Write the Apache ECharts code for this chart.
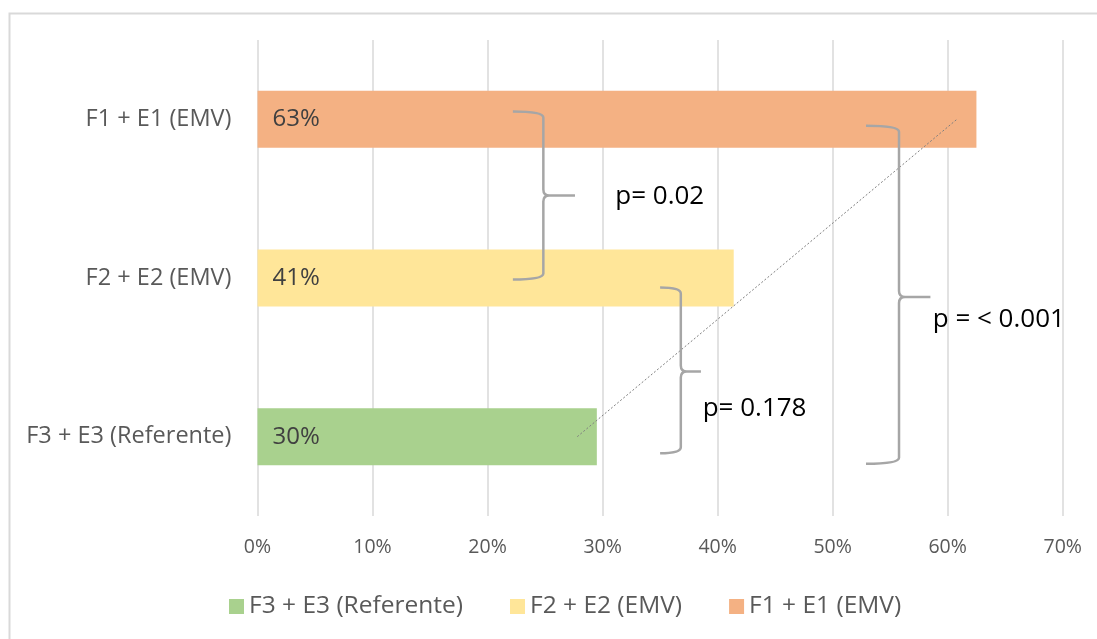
<!DOCTYPE html>
<html>
<head>
<meta charset="utf-8">
<script src="https://cdn.jsdelivr.net/npm/echarts@6/dist/echarts.min.js"></script>
<style>
  html, body { margin: 0; padding: 0; background: #ffffff; }
  #chart { width: 1097px; height: 639px; }
</style>
</head>
<body>
<div id="chart"></div>
<script>
// Categories, bottom to top on the vertical axis
const categories = ['F3 + E3 (Referente)', 'F2 + E2 (EMV)', 'F1 + E1 (EMV)'];
// Share per group, in percent
const values = [29.5, 41.4, 62.5];
const seriesColors = ['#a9d18e', '#ffe699', '#f4b183'];
// Horizontal axis ticks
const xTicks = [0, 10, 20, 30, 40, 50, 60, 70];

// Group comparison brackets: [xEnd, xSpine, xTip, yTop, yTip, yBottom] (y in category units)
const braces = [
  [22.2, 24.85, 27.6, 2.05, 1.52, 0.99],
  [35.0, 36.8, 38.55, 0.94, 0.41, -0.105],
  [52.9, 55.77, 58.5, 1.96, 0.88, -0.17]
];
// p-value labels: [x, y, text]
const pLabels = [
  [31.1, 1.51, 'p= 0.02'],
  [38.7, 0.18, 'p= 0.178'],
  [58.7, 0.735, 'p = < 0.001']
];
// Linear trend across the groups
const trendEnds = [[27.8, 0], [60.8, 2]];

const FONT = '"Open Sans", Lato, sans-serif';

const chart = echarts.init(document.getElementById('chart'));

const barSeries = categories.map((name, i) => ({
  name: name,
  type: 'bar',
  stack: 'all',
  barWidth: 57,
  itemStyle: { color: seriesColors[i] },
  label: {
    show: true,
    position: 'insideLeft',
    distance: 15,
    color: '#404040',
    fontSize: 24,
    fontFamily: FONT,
    formatter: p => Math.round(p.value) + '%'
  },
  data: categories.map((c, j) => (j === i ? values[i] : '-'))
}));

function bracePath(api) {
  const xe = api.value(0), xs = api.value(1), xt = api.value(2);
  const yt = api.value(3), ym = api.value(4), yb = api.value(5);
  const pTop = api.coord([xe, yt]);
  const pSpineTop = api.coord([xs, yt]);
  const pTip = api.coord([xt, ym]);
  const pSpineMid = api.coord([xs, ym]);
  const pBot = api.coord([xe, yb]);
  const X = pSpineTop[0], r = 6;
  const d = [
    'M', pTop[0], pTop[1],
    'Q', X, pTop[1], X, pTop[1] + r,
    'L', X, pSpineMid[1] - r,
    'Q', X, pSpineMid[1], X + r, pSpineMid[1],
    'L', pTip[0], pSpineMid[1],
    'M', X + r, pSpineMid[1],
    'Q', X, pSpineMid[1], X, pSpineMid[1] + r,
    'L', X, pBot[1] - r,
    'Q', X, pBot[1], pBot[0], pBot[1]
  ].join(' ');
  return {
    type: 'path',
    shape: { pathData: d },
    style: { fill: null, stroke: '#a6a6a6', lineWidth: 2.5 }
  };
}

const option = {
  animation: false,
  backgroundColor: '#ffffff',
  grid: { left: 257.5, right: 34.3, top: 40, bottom: 123, containLabel: false },
  legend: {
    top: 589,
    left: 224,
    itemWidth: 15,
    itemHeight: 15,
    itemGap: 47,
    icon: 'rect',
    textStyle: { color: '#595959', fontSize: 24.5, fontFamily: FONT },
    data: categories
  },
  xAxis: {
    type: 'value',
    min: 0,
    max: 70,
    interval: 10,
    axisLine: { show: false },
    axisTick: { show: false },
    axisLabel: {
      color: '#595959',
      fontSize: 19.5,
      fontFamily: FONT,
      margin: 21,
      formatter: v => (xTicks.includes(v) ? v + '%' : '')
    },
    splitLine: { lineStyle: { color: '#d9d9d9', width: 1.5 } }
  },
  yAxis: [
    {
      type: 'category',
      data: categories,
      axisLine: { show: false },
      axisTick: { show: false },
      axisLabel: { color: '#595959', fontSize: 23.5, fontFamily: FONT, margin: 26 },
      splitLine: { show: false }
    },
    {
      type: 'value',
      min: -0.5,
      max: 2.5,
      show: false
    }
  ],
  series: barSeries.concat([
    {
      type: 'custom',
      xAxisIndex: 0,
      yAxisIndex: 1,
      silent: true,
      renderItem: (params, api) => bracePath(api),
      data: braces,
      z: 5
    },
    {
      type: 'custom',
      xAxisIndex: 0,
      yAxisIndex: 1,
      silent: true,
      renderItem: (params, api) => {
        const p = api.coord([api.value(0), api.value(1)]);
        return {
          type: 'text',
          x: p[0],
          y: p[1],
          style: {
            text: pLabels[params.dataIndex][2],
            fill: '#000000',
            fontSize: 26,
            fontFamily: FONT,
            align: 'left',
            verticalAlign: 'middle'
          }
        };
      },
      data: pLabels.map(d => [d[0], d[1]]),
      z: 6
    },
    {
      type: 'line',
      xAxisIndex: 0,
      yAxisIndex: 1,
      silent: true,
      symbol: 'none',
      lineStyle: { color: '#7f7f7f', width: 1, type: [2, 2] },
      data: trendEnds,
      z: 4
    }
  ]),
  graphic: [
    {
      type: 'rect',
      left: 7,
      top: 11,
      shape: { width: 1110, height: 650 },
      style: { fill: null, stroke: '#d9d9d9', lineWidth: 2 },
      silent: true
    }
  ]
};

chart.setOption(option);
</script>
</body>
</html>
